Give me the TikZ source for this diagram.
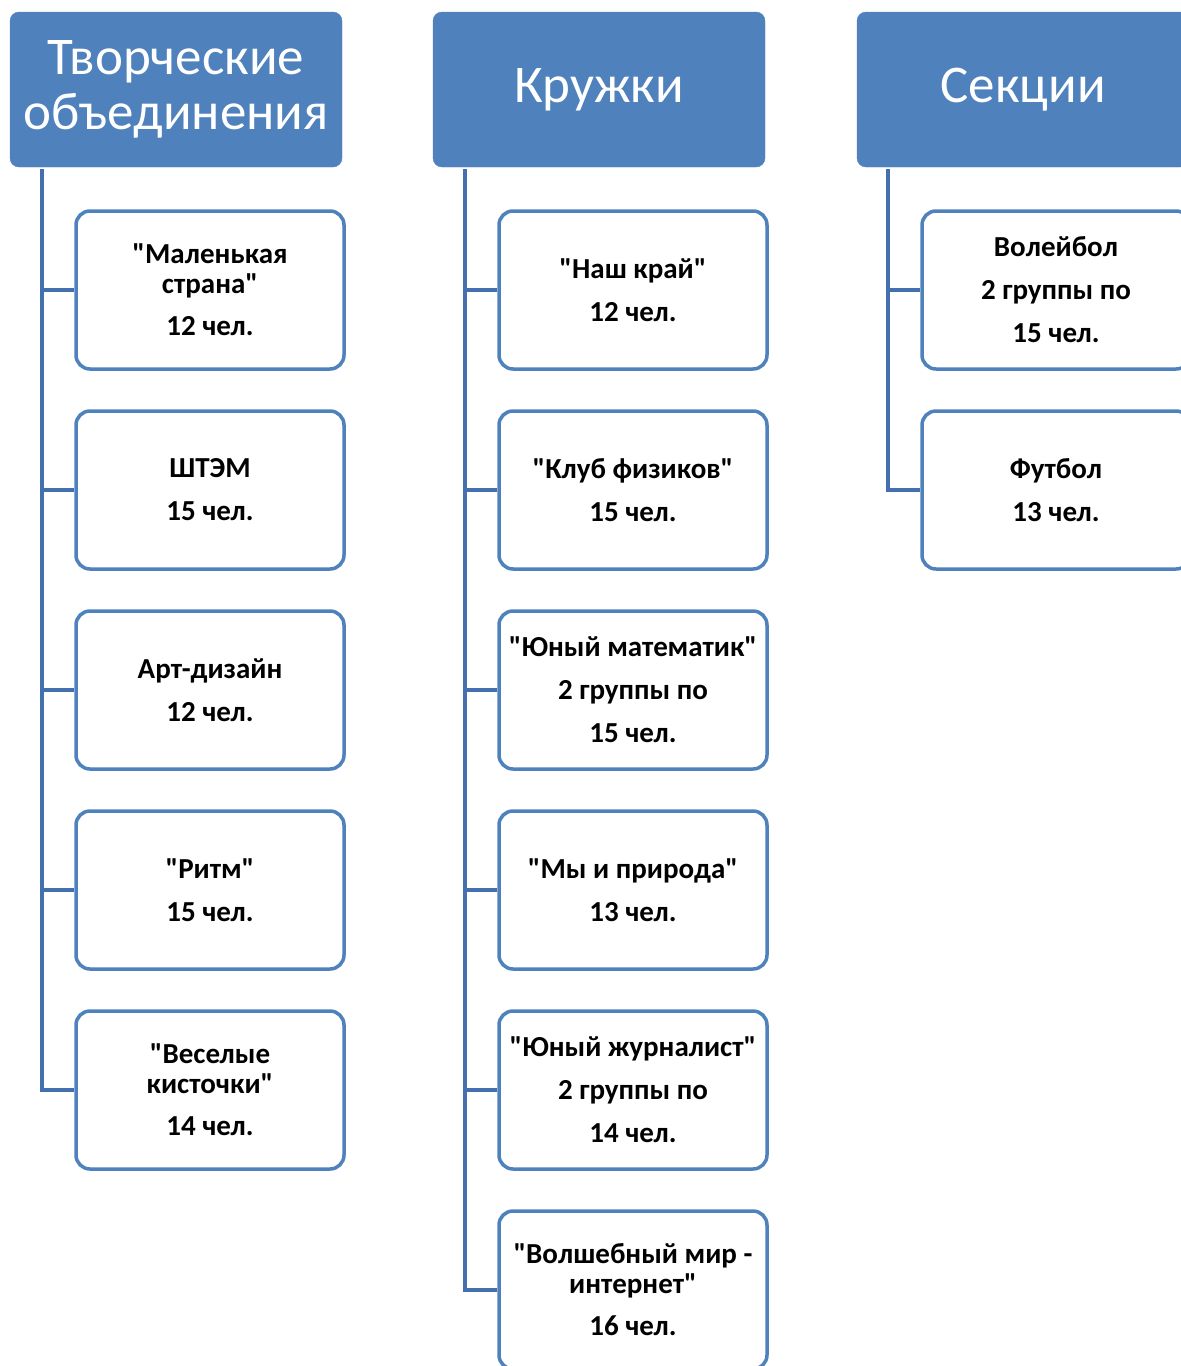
\documentclass[tikz,border=0pt]{standalone}
\usepackage{fontspec}
\setmainfont{Carlito}
\usetikzlibrary{positioning}

\definecolor{headblue}{HTML}{4F81BD}
\definecolor{lineblue}{HTML}{4470B0}

\begin{document}
\begin{tikzpicture}[x=1pt,y=1pt,
    head/.style={draw=headblue, fill=headblue, rectangle, rounded corners=9pt,
        minimum width=332pt, minimum height=155pt, text=white, align=center,
        font=\fontsize{53}{55}\selectfont},
    club/.style={draw=headblue, line width=3.5pt, fill=white, rectangle,
        rounded corners=14pt, minimum width=268pt, minimum height=158pt,
        align=center, font=\fontsize{29}{30}\selectfont\bfseries},
    link/.style={draw=lineblue, line width=3.5pt}]

\useasboundingbox (0,0) rectangle (1181,-1366);

% Headers
\node[head] (tvor) at (176,-89.5) {Творческие\\объединения};
\node[head] (kruz) at (599,-89.5) {Кружки};
\node[head] (sekc) at (1023,-89.5) {Секции};

% Column 1
\node[club] (malen) at (210,-290) {\textquotedbl Маленькая\\страна\textquotedbl\\[12pt]12 чел.};
\node[club, below=38.5pt of malen] (shtem) {ШТЭМ\\[13pt]15 чел.};
\node[club, below=38.5pt of shtem] (art) {Арт-дизайн\\[13pt]12 чел.};
\node[club, below=38.5pt of art] (ritm) {\textquotedbl Ритм\textquotedbl\\[13pt]15 чел.};
\node[club, below=38.5pt of ritm] (kist) {\textquotedbl Веселые\\кисточки\textquotedbl\\[12pt]14 чел.};

% Column 2
\node[club] (krai) at (633,-290) {\textquotedbl Наш край\textquotedbl\\[13pt]12 чел.};
\node[club, below=38.5pt of krai] (fiz) {\textquotedbl Клуб физиков\textquotedbl\\[13pt]15 чел.};
\node[club, below=38.5pt of fiz] (mat) {\textquotedbl Юный математик\textquotedbl\\[13pt]2 группы по\\[13pt]15 чел.};
\node[club, below=38.5pt of mat] (prir) {\textquotedbl Мы и природа\textquotedbl\\[13pt]13 чел.};
\node[club, below=38.5pt of prir] (zhur) {\textquotedbl Юный журналист\textquotedbl\\[13pt]2 группы по\\[13pt]14 чел.};
\node[club, below=38.5pt of zhur] (inet) {\textquotedbl Волшебный мир -\\интернет\textquotedbl\\[12pt]16 чел.};

% Column 3
\node[club] (voll) at (1056,-290) {Волейбол\\[13pt]2 группы по\\[13pt]15 чел.};
\node[club, below=38.5pt of voll] (fut) {Футбол\\[13pt]13 чел.};

% Links
\foreach \c in {malen,shtem,art,ritm,kist}
    \draw[link] ([xshift=32pt,yshift=-2pt]tvor.south west) |- (\c.west);
\foreach \c in {krai,fiz,mat,prir,zhur,inet}
    \draw[link] ([xshift=32pt,yshift=-2pt]kruz.south west) |- (\c.west);
\foreach \c in {voll,fut}
    \draw[link] ([xshift=31pt,yshift=-2pt]sekc.south west) |- (\c.west);

\end{tikzpicture}
\end{document}
